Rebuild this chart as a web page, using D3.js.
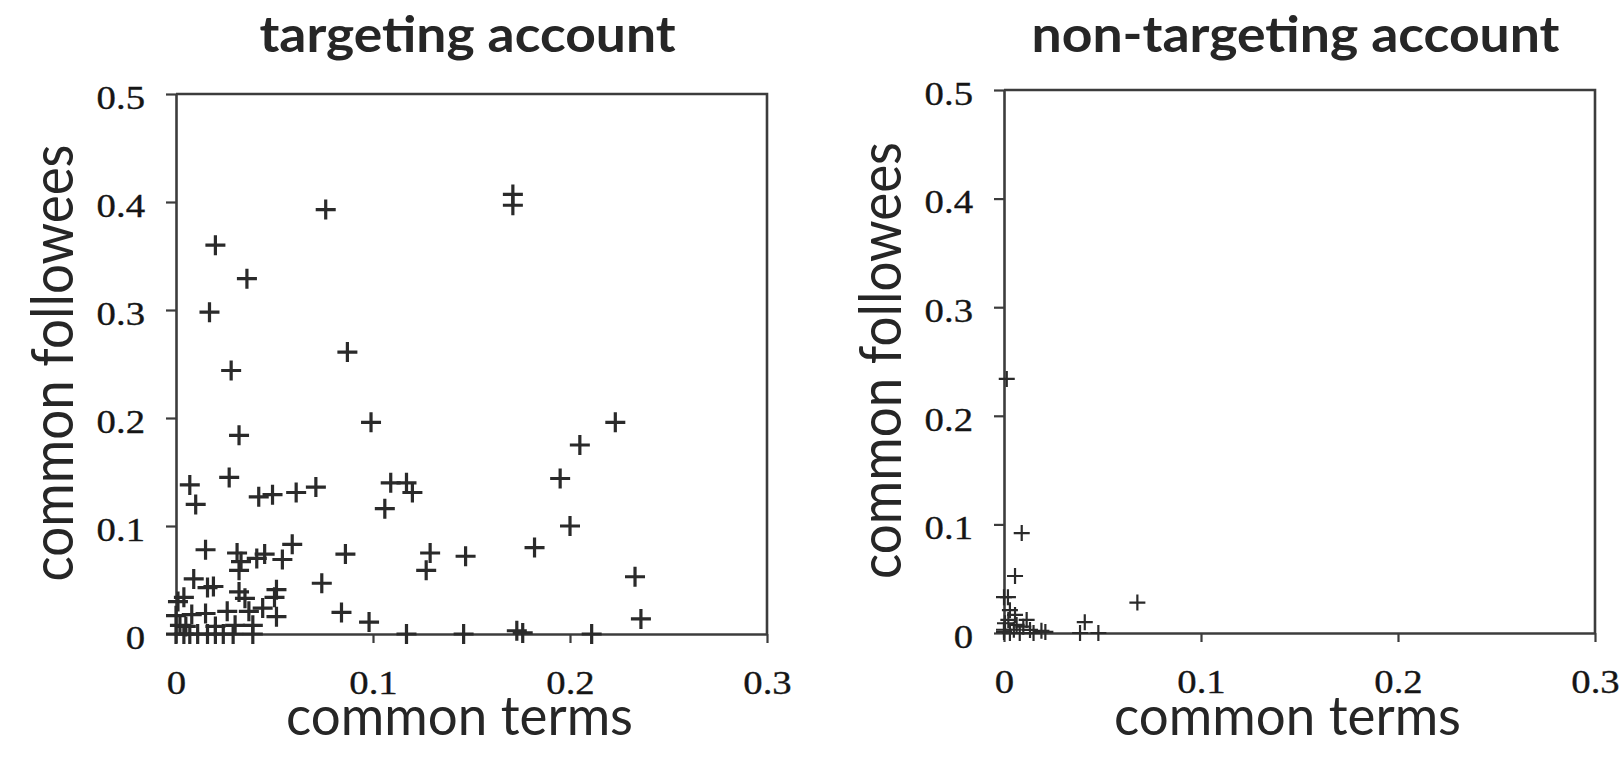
<!DOCTYPE html>
<html>
<head>
<meta charset="utf-8">
<script src="https://cdn.jsdelivr.net/npm/d3@7"></script>
<style>
html,body{margin:0;padding:0;background:#fff;}
svg{display:block;}
</style>
</head>
<body>
<svg id="chart" width="1624" height="771"></svg>
<script>
// ---- data ----
const titles = ["targeting account", "non-targeting account"];
const xAxisTitle = "common terms";
const yAxisTitle = "common followees";
const xTicks = [0, 0.1, 0.2, 0.3];
const xTickLabels = ["0", "0.1", "0.2", "0.3"];
const yTicks = [0, 0.1, 0.2, 0.3, 0.4, 0.5];
const yTickLabels = ["0", "0.1", "0.2", "0.3", "0.4", "0.5"];

const targetX = [0.076,0.171,0.171,0.020,0.036,0.017,0.087,0.028,0.099,0.032,
  0.007,0.027,0.010,0.042,0.049,0.061,0.071,0.109,0.117,0.120,
  0.106,0.015,0.059,0.086,0.031,0.033,0.032,0.041,0.045,0.054,
  0.129,0.127,0.147,0.074,0.084,0.098,0.117,0.146,0.051,0.050,
  0.051,0.009,0.016,0.019,0.004,0.032,0.035,0.044,0.037,0.026,
  0.015,0.000,0.008,0.039,0.030,0.020,0.005,0.000,0.004,0.007,
  0.011,0.016,0.020,0.024,0.029,0.039,0.223,0.205,0.195,0.200,
  0.182,0.233,0.236,0.173,0.176,0.211,0.001,0.002];
const targetY = [0.393,0.407,0.397,0.360,0.329,0.298,0.261,0.244,0.196,0.184,
  0.138,0.145,0.120,0.127,0.129,0.131,0.136,0.140,0.140,0.131,
  0.116,0.078,0.083,0.074,0.075,0.067,0.059,0.070,0.074,0.069,
  0.075,0.059,0.072,0.047,0.020,0.011,0.000,0.000,0.041,0.034,
  0.016,0.051,0.043,0.044,0.034,0.039,0.033,0.024,0.021,0.021,
  0.019,0.017,0.018,0.008,0.008,0.007,0.007,0.000,0.000,0.000,
  0.000,0.000,0.000,0.000,0.000,0.000,0.196,0.175,0.144,0.100,
  0.080,0.053,0.014,0.003,0.001,0.000,0.030,0.008];

const nonTargetX = [0.0014,0.009,0.0056,0.000,0.002,0.0677,0.041,0.0386,0.0479,0.019,
  0.003,0.0056,0.0022,0.0064,0.0098,0.0132,0.000,0.003,0.008,0.015,
  0.000,0.0005,0.0115,0.021,0.005];
const nonTargetY = [0.234,0.092,0.0525,0.033,0.033,0.028,0.010,0.000,0.000,0.002,
  0.021,0.0166,0.012,0.0074,0.0058,0.0028,0.003,0.000,0.000,0.000,
  0.001,0.009,0.012,0.001,0.003];

// ---- layout ----
const panels = [
  {x0:176, x1:767, y0:634, y1:94, xs:targetX, ys:targetY, half:10, sw:3.2, title:titles[0], tw:416},
  {x0:1004, x1:1595, y0:633, y1:90, xs:nonTargetX, ys:nonTargetY, half:8, sw:2.2, title:titles[1], tw:528}
];

const svg = d3.select("#chart");
const defs = svg.append("defs");
defs.append("filter").attr("id","soft").append("feGaussianBlur").attr("stdDeviation",0.55);

const axisColor = "#3c3c3c";

panels.forEach(p => {
  const x = d3.scaleLinear().domain([0, 0.3]).range([p.x0, p.x1]);
  const y = d3.scaleLinear().domain([0, 0.5]).range([p.y0, p.y1]);
  const g = svg.append("g");

  // frame (top & right)
  g.append("path")
    .attr("d", `M${x(0)},${y(0.5)}H${x(0.3)}V${y(0)}`)
    .attr("fill","none").attr("stroke", axisColor).attr("stroke-width", 2.6);

  // y axis
  const ya = g.append("g").attr("transform", `translate(${x(0)},0)`)
    .call(d3.axisLeft(y).tickValues(yTicks).tickFormat((d,i)=>yTickLabels[i])
      .tickSize(10).tickSizeOuter(0).tickPadding(21));
  // x axis
  const xa = g.append("g").attr("transform", `translate(0,${y(0)})`)
    .call(d3.axisBottom(x).tickValues(xTicks).tickFormat((d,i)=>xTickLabels[i])
      .tickSize(9).tickSizeOuter(0).tickPadding(0));

  [ya, xa].forEach(a => {
    a.select(".domain").attr("stroke", axisColor).attr("stroke-width", 2.6);
    a.selectAll(".tick line").attr("stroke", axisColor).attr("stroke-width", 2.2);
    a.selectAll("text")
      .attr("font-family", "'Liberation Serif', 'Times New Roman', serif")
      .attr("font-size", 34)
      .attr("fill", "#151515")
      .attr("stroke", "#151515").attr("stroke-width", 0.35);
  });
  ya.selectAll("text").attr("dy", "0.42em");
  xa.selectAll("text").attr("y", 60).attr("dy", 0);
  // horizontal stretch of tick labels
  [ya, xa].forEach(a => a.selectAll("text").each(function(){
    const w = this.getComputedTextLength();
    d3.select(this).attr("textLength", w*1.14).attr("lengthAdjust","spacingAndGlyphs");
  }));

  // points (plus markers)
  const pts = p.xs.map((v,i)=>[v, p.ys[i]]);
  g.append("g").attr("filter","url(#soft)")
    .selectAll("path").data(pts).join("path")
    .attr("transform", d => `translate(${x(d[0])},${y(d[1])})`)
    .attr("d", `M${-p.half},0H${p.half}M0,${-p.half}V${p.half}`)
    .attr("stroke", "#2a2a2a").attr("stroke-width", p.sw).attr("fill","none");

  // title
  const cx = (p.x0 + p.x1)/2;
  svg.append("text")
    .attr("x", cx - 4).attr("y", 52)
    .attr("text-anchor","middle")
    .attr("font-family","Lato, 'Open Sans', sans-serif")
    .attr("font-weight", 700).attr("font-size", 50)
    .attr("fill","#262626")
    .attr("textLength", p.tw)
    .attr("lengthAdjust","spacingAndGlyphs")
    .text(p.title);

  // x axis title
  svg.append("text")
    .attr("x", cx - 12).attr("y", 735)
    .attr("text-anchor","middle")
    .attr("font-family","Lato, 'Open Sans', sans-serif")
    .attr("font-size", 54)
    .attr("fill","#262626")
    .attr("textLength", 347).attr("lengthAdjust","spacingAndGlyphs")
    .text(xAxisTitle);

  // y axis title
  const ly = (p.y0 + p.y1)/2 - 1;
  const lx = p.x0 - 103;
  svg.append("text")
    .attr("transform", `translate(${lx},${ly}) rotate(-90)`)
    .attr("text-anchor","middle")
    .attr("font-family","Lato, 'Open Sans', sans-serif")
    .attr("font-size", 58)
    .attr("fill","#262626")
    .attr("textLength", 437).attr("lengthAdjust","spacingAndGlyphs")
    .text(yAxisTitle);
});
</script>
</body>
</html>
